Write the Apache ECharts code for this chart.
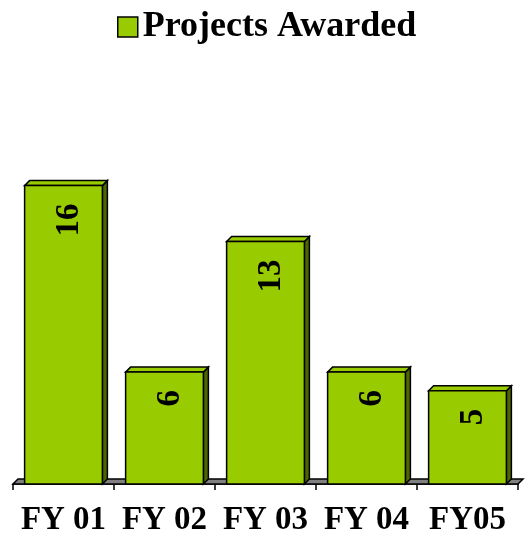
<!DOCTYPE html>
<html>
<head>
<meta charset="utf-8">
<script src="https://cdn.jsdelivr.net/npm/echarts@6/dist/echarts.min.js"></script>
<style>
  html, body { margin: 0; padding: 0; background: #fff; }
  #chart { width: 529px; height: 540px; }
</style>
</head>
<body>
<div id="chart"></div>
<script>
  // data
  var categories = ['FY 01', 'FY 02', 'FY 03', 'FY 04', 'FY05']
  var awarded = [16, 6, 13, 6, 5]
  var seriesName = 'Projects Awarded'

  var FONT = '"Liberation Serif", "Times New Roman", serif'
  var GREEN = '#99cc00'
  var SIDE = '#4d6600'
  var DEPTH = 5

  // 3d-ish bar: front face, top and right side
  function renderBar (params, api) {
    var top = api.coord([api.value(0), api.value(1)])
    var base = api.coord([api.value(0), 0])
    var w = api.size([1, 0])[0] * 0.77
    var l = top[0] - w / 2
    var r = top[0] + w / 2
    var line = { stroke: '#000', lineWidth: 1.5 }
    return {
      type: 'group',
      children: [{
        type: 'polygon',
        shape: { points: [[r, top[1]], [r + DEPTH, top[1] - DEPTH], [r + DEPTH, base[1] - DEPTH], [r, base[1]]] },
        style: Object.assign({ fill: SIDE }, line)
      }, {
        type: 'polygon',
        shape: { points: [[l, top[1]], [l + DEPTH, top[1] - DEPTH], [r + DEPTH, top[1] - DEPTH], [r, top[1]]] },
        style: Object.assign({ fill: GREEN }, line)
      }, {
        type: 'rect',
        shape: { x: l, y: top[1], width: w, height: base[1] - top[1] },
        style: Object.assign({ fill: GREEN }, line)
      }, {
        type: 'text',
        x: top[0] + 6,
        y: top[1] + 18,
        rotation: Math.PI / 2,
        style: {
          text: String(api.value(1)),
          align: 'right',
          verticalAlign: 'middle',
          fill: '#000',
          font: 'bold 33px ' + FONT
        }
      }]
    }
  }

  // grey floor under the bars
  function renderFloor (params, api) {
    var cs = params.coordSys
    var yb = api.coord([0, 0])[1]
    var x0 = cs.x
    var x1 = cs.x + cs.width
    return {
      type: 'polygon',
      shape: { points: [[x0, yb], [x0 + DEPTH, yb - DEPTH], [x1 + DEPTH, yb - DEPTH], [x1, yb]] },
      style: { fill: '#808080', stroke: '#000', lineWidth: 1.5 }
    }
  }

  var chart = echarts.init(document.getElementById('chart'))
  chart.setOption({
    animation: false,
    legend: {
      data: [{
        name: seriesName,
        itemStyle: { color: GREEN, borderColor: '#000', borderWidth: 1.5 }
      }],
      top: 4,
      left: 112,
      icon: 'rect',
      itemWidth: 20,
      itemHeight: 20,
      itemGap: 6,
      textStyle: { fontFamily: FONT, fontWeight: 'bold', fontSize: 36, color: '#000' }
    },
    grid: {
      left: 13,
      right: 11,
      top: 111,
      bottom: 56
    },
    xAxis: {
      type: 'category',
      data: categories,
      boundaryGap: true,
      axisLine: { lineStyle: { color: '#000', width: 1.5 } },
      axisTick: { show: true, interval: 0, length: 6, lineStyle: { color: '#000', width: 1.5 } },
      axisLabel: {
        interval: 0,
        hideOverlap: false,
        margin: 20,
        fontFamily: FONT,
        fontWeight: 'bold',
        fontSize: 33,
        color: '#000'
      }
    },
    yAxis: {
      type: 'value',
      min: 0,
      max: 20,
      show: false
    },
    series: [{
      name: 'floor',
      type: 'custom',
      renderItem: renderFloor,
      data: [[0, 0]],
      encode: { x: 0, y: 1 },
      z: 1,
      silent: true
    }, {
      name: seriesName,
      type: 'custom',
      renderItem: renderBar,
      itemStyle: { color: GREEN },
      data: awarded.map(function (v, i) { return [i, v] }),
      encode: { x: 0, y: 1 },
      z: 2
    }]
  })
</script>
</body>
</html>
